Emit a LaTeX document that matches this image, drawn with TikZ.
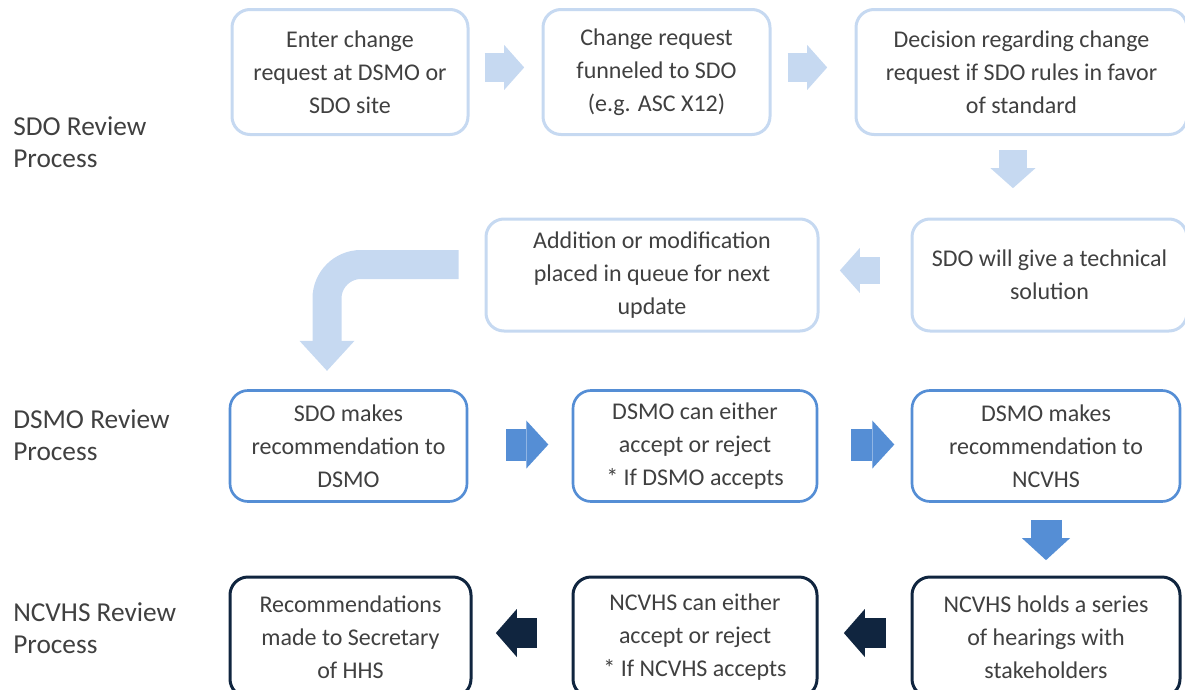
\documentclass[tikz,border=0pt]{standalone}
\usepackage{fontspec}
\setmainfont{Carlito}
\usetikzlibrary{arrows.meta}

\definecolor{sdoblue}{HTML}{C6D9F1}
\definecolor{dsmoblue}{HTML}{558ED5}
\definecolor{ncvhsnavy}{HTML}{10253F}
\definecolor{txtgray}{HTML}{404040}

\begin{document}
\begin{tikzpicture}[x=0.75pt, y=-0.75pt,
  box/.style={rectangle, rounded corners=13.5pt, fill=white, align=center,
    text=txtgray, inner sep=2pt, minimum height=84pt,
    font=\fontsize{18}{24.75}\selectfont},
  sdobox/.style={box, draw=sdoblue, line width=2.25pt},
  dsmobox/.style={box, draw=dsmoblue, line width=2pt},
  ncvhsbox/.style={box, draw=ncvhsnavy, line width=2.25pt, minimum height=90pt},
  procname/.style={anchor=west, align=left, inner sep=0pt, text=txtgray,
    font=\fontsize{20.5}{24}\selectfont},
  sdoarrow/.style={draw=sdoblue, line width=21.75pt,
    -{Triangle[length=15pt, width=33.75pt, line width=0pt, sep=-2pt]}},
  dsmoarrow/.style={draw=dsmoblue, line width=24pt,
    -{Triangle[length=16.5pt, width=36pt, line width=0pt, sep=-2pt]}},
  ncvhsarrow/.style={draw=ncvhsnavy, line width=22.5pt,
    -{Triangle[length=15.75pt, width=36pt, line width=0pt, sep=-2pt]}}
]
\useasboundingbox (0,0) rectangle (1185,689);

% process names
\node[procname] (sdolabel) at (13,142) {SDO Review\\Process};
\node[procname] (dsmolabel) at (13,435) {DSMO Review\\Process};
\node[procname] (ncvhslabel) at (13,628) {NCVHS Review\\Process};

% SDO row
\node[sdobox, minimum width=177pt, minimum height=93.75pt] (enter) at (350,72)
  {Enter change\\request at DSMO or\\SDO site};
\node[sdobox, minimum width=170.25pt, minimum height=93.75pt] (funnel) at (656.5,72)
  {Change request\\funneled to SDO\\(e.g. ASC X12)};
\node[sdobox, minimum width=248.25pt, minimum height=93.75pt] (decide) at (1021.5,72)
  {Decision regarding change\\request if SDO rules in favor\\of standard};
\node[sdobox, minimum width=206.25pt] (solve) at (1049.5,275)
  {SDO will give a technical\\solution};
\node[sdobox, minimum width=249pt] (queue) at (652,275)
  {Addition or modification\\placed in queue for next\\update};

% DSMO row
\node[dsmobox, minimum width=177.75pt, minimum height=83.25pt] (sdorec) at (348.5,446)
  {SDO makes\\recommendation to\\DSMO};
\node[dsmobox, minimum width=183pt, minimum height=83.25pt] (dsmodecide) at (695,446)
  {DSMO can either\\accept or reject\\* If DSMO accepts};
\node[dsmobox, minimum width=201pt, minimum height=83.25pt] (dsmorec) at (1046,446)
  {DSMO makes\\recommendation to\\NCVHS};

% NCVHS row
\node[ncvhsbox, minimum width=201pt] (hearings) at (1046,637)
  {NCVHS holds a series\\of hearings with\\stakeholders};
\node[ncvhsbox, minimum width=183pt] (ncvhsdecide) at (695,637)
  {NCVHS can either\\accept or reject\\* If NCVHS accepts};
\node[ncvhsbox, minimum width=180.75pt] (secretary) at (350.5,637)
  {Recommendations\\made to Secretary\\of HHS};

% block arrows
\draw[sdoarrow, shorten <=11.25pt, shorten >=15pt]
  ([yshift=3.4pt]enter.east) -- ([yshift=3.4pt]funnel.west);
\draw[sdoarrow, shorten <=12pt, shorten >=22.5pt]
  ([yshift=3.4pt]funnel.east) -- ([yshift=3.4pt]decide.west);
\draw[sdoarrow, line width=21pt, shorten <=10.5pt, shorten >=24pt]
  ([xshift=-6.4pt]decide.south) -- ([xshift=-6.4pt]decide.south |- solve.north);
\draw[sdoarrow, line width=20.25pt, shorten <=23.25pt, shorten >=17.25pt]
  ([yshift=3.4pt]queue.east -| solve.west) -- ([yshift=3.4pt]queue.east);
\draw[draw=sdoblue, line width=21.75pt, rounded corners=25.5pt,
  -{Triangle[length=22.5pt, width=41.25pt, line width=0pt, sep=-2pt]}]
  ([shift={(-26,-10.5)}]queue.west) -| ([shift={(-21.5,-21)}]sdorec.north);

\draw[dsmoarrow, shorten <=28.5pt, shorten >=19.5pt]
  ([yshift=1.1pt]sdorec.east) -- ([yshift=1.1pt]dsmodecide.west);
\draw[dsmoarrow, shorten <=24.75pt, shorten >=14.25pt]
  ([yshift=1.1pt]dsmodecide.east) -- ([yshift=1.1pt]dsmorec.west);
\draw[dsmoarrow, line width=23.25pt, shorten <=12.75pt, shorten >=13.5pt] (dsmorec) -- (hearings);

\draw[ncvhsarrow, shorten <=18.75pt, shorten >=21pt]
  ([yshift=3pt]hearings.west) -- ([yshift=3pt]ncvhsdecide.east);
\draw[ncvhsarrow, shorten <=26.25pt, shorten >=19.5pt]
  ([yshift=3pt]ncvhsdecide.west) -- ([yshift=3pt]secretary.east);

\end{tikzpicture}
\end{document}
